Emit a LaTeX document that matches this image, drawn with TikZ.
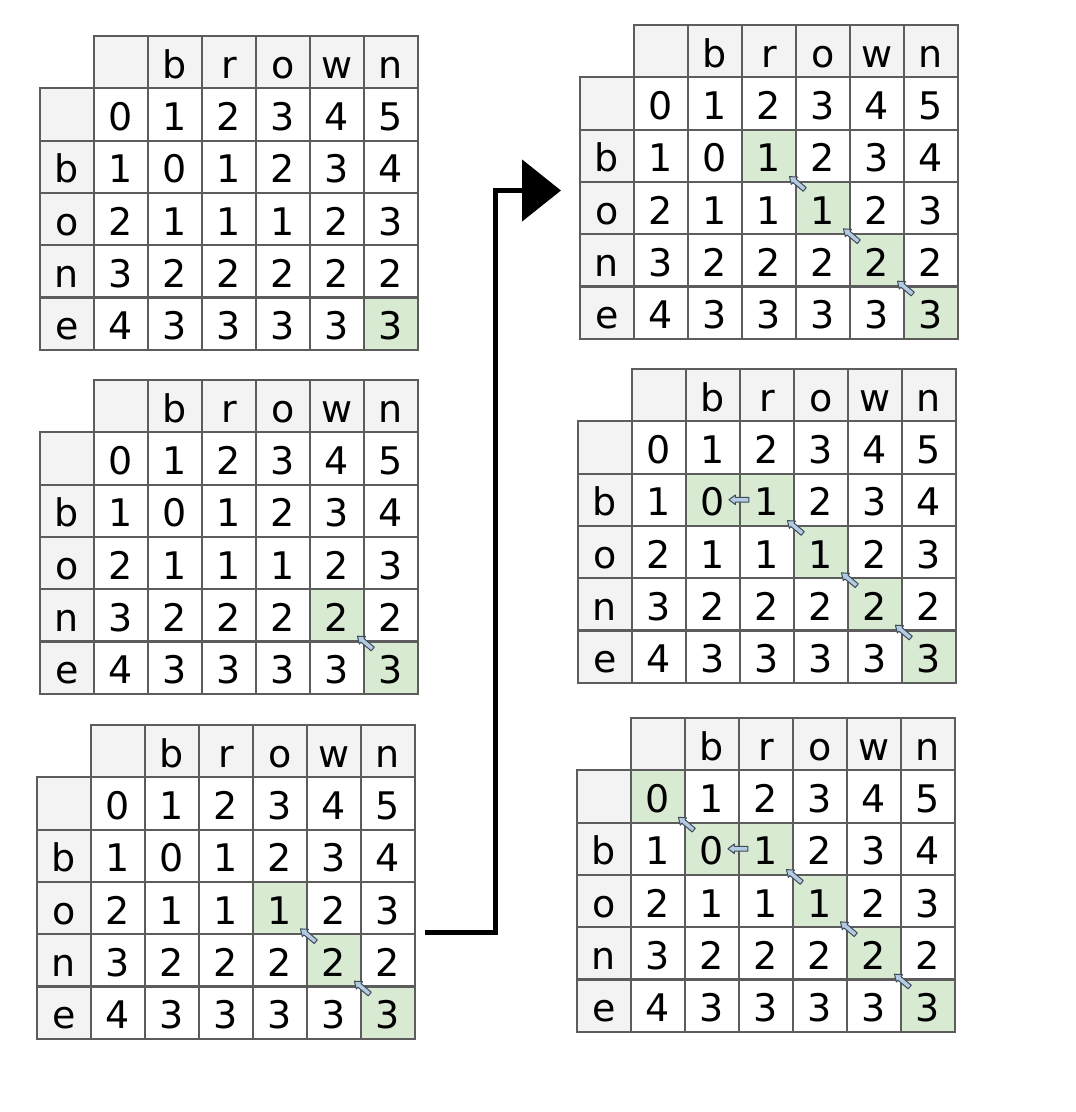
\documentclass[tikz,border=0pt]{standalone}
\usepackage{fontspec}
\setmainfont{DejaVu Sans}
\usetikzlibrary{arrows.meta}
\definecolor{gridc}{HTML}{5C5C5C}
\definecolor{hdrfill}{HTML}{F3F3F3}
\definecolor{greenc}{HTML}{D9EAD3}
\definecolor{arrfill}{HTML}{B4CBE4}
\definecolor{arrdraw}{HTML}{3F4A55}
\def\cellw{54}
\def\cellh{52.3}
\tikzset{
 cellbase/.style={draw=gridc, line width=2.2pt, minimum width=54pt, minimum height=52.3pt,
   inner sep=0pt, text height=32pt, text depth=0pt, font=\fontsize{38}{40}\selectfont},
 hdrcell/.style={cellbase, fill=hdrfill},
 valcell/.style={cellbase},
 greencell/.style={fill=greenc},
 smallarrow/.style={fill=arrfill, draw=arrdraw, line width=1pt, line join=round},
 bigarrow/.style={line width=5pt, -{Triangle[length=39pt,width=61pt]}},
}
\newcommand\dptable[4]{%
 \begin{scope}[shift={(#2,#3)}]
  \foreach \rr/\cc in {#4}
    \fill[greencell] ({(\cc+1)*\cellw},{(\rr+1)*\cellh}) rectangle ++(\cellw,\cellh);
  \foreach \t [count=\j from 1] in {{},b,r,o,w,n}
    \node[hdrcell] (#1-h\j) at ({(\j+0.5)*\cellw},{0.5*\cellh}) {\t};
  \foreach \t [count=\i from 1] in {{},b,o,n,e}
    \node[hdrcell] (#1-l\i) at ({0.5*\cellw},{(\i+0.5)*\cellh}) {\t};
  \foreach \row [count=\i from 1] in {{0,1,2,3,4,5},{1,0,1,2,3,4},{2,1,1,1,2,3},{3,2,2,2,2,2},{4,3,3,3,3,3}}{
    \foreach \v [count=\j from 1] in \row
      \node[valcell] (#1-\i-\j) at ({(\j+0.5)*\cellw},{(\i+0.5)*\cellh}) {\v};
  }
 \end{scope}}
\newcommand\sarrow[2]{%
 \begin{scope}[shift={(#1)},rotate=#2]
  \filldraw[smallarrow] (-10,-2.4) -- (3.5,-2.4) -- (3.5,-4.8) -- (10,0) -- (3.5,4.8) -- (3.5,2.4) -- (-10,2.4) -- cycle;
 \end{scope}}
\begin{document}
\begin{tikzpicture}[x=1pt,y=-1pt]
\fill[white] (0,0) rectangle (1076,1112);
\useasboundingbox (0,0) rectangle (1076,1112);

\dptable{t1}{40}{36}{4/5}
\dptable{t2}{40}{380}{3/4,4/5}
\dptable{t3}{37}{725}{2/3,3/4,4/5}
\dptable{t4}{580}{25}{1/2,2/3,3/4,4/5}
\dptable{t5}{578}{369}{1/1,1/2,2/3,3/4,4/5}
\dptable{t6}{577}{718}{0/0,1/1,1/2,2/3,3/4,4/5}

\sarrow{t2-4-5.south east}{140}
\sarrow{t3-3-4.south east}{140}
\sarrow{t3-4-5.south east}{140}
\foreach \tb in {t4,t5,t6}{
  \sarrow{\tb-2-3.south east}{140}
  \sarrow{\tb-3-4.south east}{140}
  \sarrow{\tb-4-5.south east}{140}
}
\sarrow{t5-2-3.west}{180}
\sarrow{t6-2-3.west}{180}
\sarrow{t6-1-1.south east}{140}

\coordinate (bigstart) at (425,932);
\coordinate (bigbend) at (495,190.5);
\coordinate (bigtip) at (561,190.5);
\draw[bigarrow] (bigstart) -| (bigbend) -- (bigtip);
\end{tikzpicture}
\end{document}
